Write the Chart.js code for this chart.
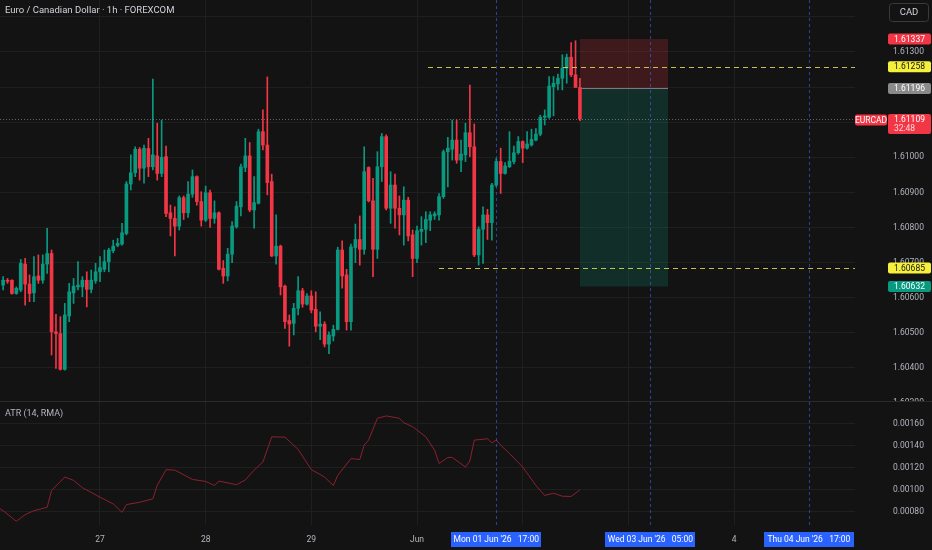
<!DOCTYPE html>
<html>
<head>
<meta charset="utf-8">
<title>EURCAD 1h</title>
<script src="https://cdn.jsdelivr.net/npm/chart.js@4.4.1/dist/chart.umd.min.js"></script>
<style>
  html, body { margin: 0; padding: 0; background: #131313; }
  #wrap { position: relative; width: 932px; height: 550px; overflow: hidden; background: #131313; }
  #main { position: absolute; left: 0; top: 0; }
  #sep { position: absolute; left: 0; top: 401px; width: 932px; height: 1px; background: #2b2b2b; }
  #atr { position: absolute; left: 0; top: 402px; }
</style>
</head>
<body>
<div id="wrap">
  <canvas id="main" width="932" height="401"></canvas>
  <div id="sep"></div>
  <canvas id="atr" width="932" height="148"></canvas>
</div>
<script>
// 1h bars, index 0 = first visible bar (26 May evening)
const opens = [
  1.60636,1.60649,1.60650,1.60612,1.60622,1.60696,1.60639,1.60614,1.60662,1.60650,
  1.60696,1.60726,1.60503,1.60498,1.60396,1.60548,1.60614,1.60631,1.60631,1.60650,
  1.60624,1.60648,1.60674,1.60681,1.60703,1.60734,1.60749,1.60753,1.60783,1.60924,
  1.60956,1.61023,1.60969,1.61025,1.60973,1.61004,1.60954,1.61002,1.60842,1.60826,
  1.60804,1.60885,1.60842,1.60895,1.60945,1.60874,1.60821,1.60899,1.60826,1.60842,
  1.60684,1.60662,1.60724,1.60802,1.60859,1.60971,1.61004,1.60850,1.60869,1.61073,
  1.61035,1.60931,1.60719,1.60747,1.60633,1.60535,1.60527,1.60570,1.60620,1.60582,
  1.60605,1.60567,1.60519,1.60525,1.60468,1.60491,1.60510,1.60736,1.60665,1.60532,
  1.60743,1.60766,1.60738,1.60971,1.60876,1.60738,1.60973,1.61059,1.60855,1.60921,
  1.60855,1.60836,1.60878,1.60779,1.60712,1.60789,1.60795,1.60821,1.60833,1.60836,
  1.60888,1.61016,1.61023,1.61049,1.60992,1.61007,1.61070,1.61030,1.60722,1.60795,
  1.60836,1.60814,1.60921,1.60988,1.60954,1.60973,1.60988,1.61013,1.61045,1.61026,
  1.61035,1.61049,1.61066,1.61114,1.61114,1.61201,1.61209,1.61225,1.61254,1.61285,
  1.61235,1.61199
];
const highs = [
  1.60660,1.60655,1.60651,1.60631,1.60709,1.60712,1.60665,1.60717,1.60722,1.60722,
  1.60798,1.60736,1.60553,1.60546,1.60584,1.60641,1.60655,1.60703,1.60660,1.60674,
  1.60679,1.60698,1.60717,1.60736,1.60741,1.60764,1.60769,1.60812,1.60931,1.61007,
  1.61030,1.61028,1.61035,1.61054,1.61223,1.61097,1.61106,1.61032,1.60864,1.60859,
  1.60890,1.60890,1.60931,1.60964,1.60947,1.60902,1.60918,1.60907,1.60876,1.60845,
  1.60706,1.60741,1.60817,1.60874,1.60981,1.61054,1.61042,1.60945,1.61080,1.61135,
  1.61229,1.60952,1.60836,1.60750,1.60636,1.60551,1.60584,1.60660,1.60627,1.60612,
  1.60620,1.60617,1.60560,1.60532,1.60503,1.60522,1.60744,1.60762,1.60681,1.60753,
  1.60810,1.60833,1.61030,1.60973,1.60940,1.61016,1.61068,1.61064,1.60959,1.60952,
  1.60890,1.60916,1.60886,1.60793,1.60804,1.60831,1.60845,1.60845,1.60845,1.60897,
  1.61021,1.61057,1.61106,1.61106,1.61049,1.61097,1.61206,1.61095,1.60802,1.60859,
  1.60852,1.60926,1.60997,1.61026,1.60985,1.61073,1.61032,1.61059,1.61047,1.61073,
  1.61080,1.61082,1.61120,1.61135,1.61230,1.61230,1.61237,1.61292,1.61294,1.61327,
  1.61332,1.61225
];
const lows = [
  1.60622,1.60641,1.60610,1.60610,1.60617,1.60579,1.60589,1.60589,1.60641,1.60641,
  1.60669,1.60437,1.60399,1.60394,1.60394,1.60532,1.60584,1.60622,1.60603,1.60574,
  1.60614,1.60641,1.60646,1.60674,1.60674,1.60728,1.60745,1.60750,1.60779,1.60907,
  1.60945,1.60935,1.60926,1.60945,1.60964,1.60935,1.60945,1.60831,1.60776,1.60719,
  1.60793,1.60823,1.60829,1.60886,1.60864,1.60804,1.60817,1.60800,1.60812,1.60679,
  1.60641,1.60648,1.60700,1.60798,1.60833,1.60959,1.60845,1.60798,1.60867,1.61021,
  1.60893,1.60717,1.60696,1.60608,1.60513,1.60462,1.60494,1.60551,1.60573,1.60579,
  1.60557,1.60503,1.60481,1.60460,1.60441,1.60477,1.60508,1.60627,1.60508,1.60508,
  1.60700,1.60693,1.60724,1.60873,1.60660,1.60712,1.60931,1.60850,1.60812,1.60798,
  1.60779,1.60750,1.60762,1.60660,1.60700,1.60750,1.60757,1.60791,1.60823,1.60821,
  1.60883,1.60916,1.60992,1.60983,1.60959,1.60988,1.61002,1.60717,1.60693,1.60698,
  1.60766,1.60764,1.60916,1.60897,1.60952,1.60971,1.60981,1.61009,1.60985,1.61023,
  1.61032,1.61047,1.61061,1.61092,1.61111,1.61118,1.61192,1.61192,1.61211,1.61230,
  1.61199,1.61104
];
const closes = [
  1.60650,1.60647,1.60612,1.60627,1.60698,1.60639,1.60612,1.60660,1.60650,1.60696,
  1.60726,1.60503,1.60498,1.60396,1.60551,1.60617,1.60633,1.60636,1.60650,1.60624,
  1.60650,1.60674,1.60686,1.60703,1.60736,1.60747,1.60755,1.60785,1.60924,1.60956,
  1.61023,1.60969,1.61026,1.60973,1.61007,1.60954,1.61000,1.60840,1.60826,1.60804,
  1.60885,1.60842,1.60895,1.60945,1.60874,1.60821,1.60899,1.60826,1.60842,1.60681,
  1.60662,1.60724,1.60804,1.60861,1.60973,1.61004,1.60850,1.60871,1.61073,1.61035,
  1.60928,1.60719,1.60747,1.60631,1.60532,1.60525,1.60570,1.60620,1.60582,1.60605,
  1.60565,1.60519,1.60525,1.60468,1.60494,1.60510,1.60736,1.60662,1.60532,1.60745,
  1.60766,1.60738,1.60959,1.60876,1.60738,1.60973,1.61059,1.60855,1.60921,1.60855,
  1.60836,1.60878,1.60776,1.60712,1.60791,1.60795,1.60823,1.60836,1.60839,1.60888,
  1.61016,1.61026,1.61049,1.60992,1.61009,1.61070,1.61030,1.60722,1.60795,1.60836,
  1.60814,1.60921,1.60988,1.60954,1.60975,1.60989,1.61013,1.61045,1.61026,1.61038,
  1.61051,1.61066,1.61114,1.61118,1.61203,1.61211,1.61225,1.61254,1.61285,1.61235,
  1.61199,1.61109
];

// ATR(14, RMA) read at these bar indexes
const atrBars = [-1,0,3,5,7,10,11,14,16,18,22,25,27,28,31,34,35,37,39,43,46,48,49,53,55,57,59,61,64,67,70,
  73,75,76,79,81,82,83,85,87,90,91,93,96,98,99,101,102,105,106,107,110,111,112,113,115,118,121,123,125,127,129,131];
const atrValues = [0.000835,0.00081,0.000714,0.000774,0.000811,0.000841,0.000995,0.001117,0.001086,0.00102,0.000933,
  0.000872,0.000795,0.000866,0.000887,0.000918,0.00104,0.001184,0.00118,0.001095,0.001077,
  0.00104,0.00108,0.001047,0.00109,0.00118,0.001254,0.001483,0.00148,0.001368,0.001184,
  0.001117,0.00104,0.001132,0.001285,0.001276,0.001407,0.001453,0.001652,0.001673,0.001652,
  0.001612,0.001575,0.001483,0.001361,0.00124,0.001295,0.001295,0.001208,0.001263,0.001453,
  0.001465,0.001428,0.001453,0.001407,0.001331,0.001208,0.00104,0.000949,0.00097,0.000942,
  0.00094,0.001];

// time axis
const dayTickPos = [22, 46, 70, 94, 118, 142, 166];
const dayTickLabels = ['27', '28', '29', 'Jun', '2', '3', '4'];
const markerBars = [112, 147, 183];
const markerLabels = ["Mon 01 Jun '26   17:00", "Wed 03 Jun '26   05:00", "Thu 04 Jun '26   17:00"];

// price axis
const priceTicks = [1.603, 1.604, 1.605, 1.606, 1.607, 1.608, 1.609, 1.610, 1.611, 1.612, 1.613, 1.614];
const hiddenPriceTicks = [1.611, 1.612, 1.614];
const atrTicks = [0.0008, 0.0010, 0.0012, 0.0014, 0.0016];

// levels
const lastPrice = 1.61109;
const lastCountdown = '32:48';
const stopPrice = 1.61337;
const entryPrice = 1.61196;
const targetPrice = 1.60632;
const positionFrom = 131, positionTo = 151;
const yellowLevels = [1.61258, 1.60685];
const yellowFrom = [96.5, 99];

const xMin = -0.71, xMax = 193.47;
const GREEN = '#089981', RED = '#f23645';
const GRID = '#1f1f1f';
const TEXT = '#b2b5be';
const FONT = "Roboto, 'Noto Sans', sans-serif";

Chart.defaults.font.family = FONT;
Chart.defaults.color = TEXT;

const candleColors = opens.map((o, i) => closes[i] >= o ? GREEN : RED);
const bodies = opens.map((o, i) => ({ x: i, y: [o, closes[i]] }));
const wicks = lows.map((l, i) => ({ x: i, y: [l, highs[i]] }));

// right price scale: fixed width, no extra vertical padding from the label offset
const fitRight = s => { s.width = 77; s.paddingTop = 0; s.paddingBottom = 0; };

function badge(ctx, x, y, w, h, bg, fg, text) {
  ctx.fillStyle = bg;
  ctx.beginPath();
  ctx.roundRect(x, y - h / 2, w, h, 2);
  ctx.fill();
  ctx.fillStyle = fg;
  ctx.textAlign = 'center';
  ctx.textBaseline = 'middle';
  ctx.fillText(text, x + w / 2, y + 0.5);
}

function vMarkers(chart) {
  const { ctx, chartArea: a, scales: { x } } = chart;
  ctx.save();
  ctx.strokeStyle = 'rgba(60,100,240,0.6)';
  ctx.lineWidth = 1;
  ctx.setLineDash([3, 3]);
  markerBars.forEach(b => {
    const px = Math.round(x.getPixelForValue(b)) + 0.5;
    ctx.beginPath();
    ctx.moveTo(px, a.top);
    ctx.lineTo(px, a.bottom);
    ctx.stroke();
  });
  ctx.restore();
}

const mainOverlay = {
  id: 'mainOverlay',
  beforeDatasetsDraw(chart) {
    const { ctx, scales: { x, y } } = chart;
    const xl = x.getPixelForValue(positionFrom), xr = x.getPixelForValue(positionTo);
    const ys = y.getPixelForValue(stopPrice), ye = y.getPixelForValue(entryPrice), yt = y.getPixelForValue(targetPrice);
    ctx.save();
    ctx.fillStyle = 'rgba(242,54,69,0.2)';
    ctx.fillRect(xl, ys, xr - xl, ye - ys);
    ctx.fillStyle = 'rgba(8,153,129,0.2)';
    ctx.fillRect(xl, ye, xr - xl, yt - ye);
    ctx.strokeStyle = '#787b86';
    ctx.beginPath();
    ctx.moveTo(xl, Math.round(ye) + 0.5);
    ctx.lineTo(xr, Math.round(ye) + 0.5);
    ctx.stroke();
    ctx.restore();
  },
  afterDatasetsDraw(chart) {
    const { ctx, chartArea: a, scales: { x, y } } = chart;
    ctx.save();
    // last price dotted line
    ctx.strokeStyle = 'rgba(178,181,190,0.5)';
    ctx.setLineDash([1, 2]);
    const py = Math.round(y.getPixelForValue(lastPrice)) + 0.5;
    ctx.beginPath(); ctx.moveTo(a.left, py); ctx.lineTo(a.right, py); ctx.stroke();
    // yellow levels
    ctx.strokeStyle = 'rgba(226,222,90,0.85)';
    ctx.setLineDash([5, 4]);
    yellowLevels.forEach((p, i) => {
      const yy = Math.round(y.getPixelForValue(p)) + 0.5;
      ctx.beginPath(); ctx.moveTo(x.getPixelForValue(yellowFrom[i]), yy); ctx.lineTo(a.right, yy); ctx.stroke();
    });
    ctx.restore();
    vMarkers(chart);
  },
  afterDraw(chart) {
    const { ctx, scales: { y } } = chart;
    ctx.save();
    ctx.font = `9.5px ${FONT}`;
    ctx.fillStyle = '#d1d4dc';
    ctx.textAlign = 'left';
    ctx.textBaseline = 'middle';
    ctx.fillText('Euro / Canadian Dollar · 1h · FOREXCOM', 5, 11);

    // currency button
    ctx.fillStyle = '#131313';
    ctx.strokeStyle = '#3a3a3a';
    ctx.beginPath(); ctx.roundRect(889.5, 3.5, 39, 18, 3); ctx.fill(); ctx.stroke();
    ctx.fillStyle = '#d1d4dc';
    ctx.textAlign = 'center';
    ctx.fillText('CAD', 909, 12.5);

    ctx.font = `8.5px ${FONT}`;
    const bx = 888, bw = 43, bh = 11;
    badge(ctx, bx, y.getPixelForValue(stopPrice), bw, bh, RED, '#ffffff', stopPrice.toFixed(5));
    badge(ctx, bx, y.getPixelForValue(yellowLevels[0]), bw, bh, '#f5f03c', '#131313', yellowLevels[0].toFixed(5));
    badge(ctx, bx, y.getPixelForValue(entryPrice), bw, bh, '#8a8a8a', '#ffffff', entryPrice.toFixed(5));
    badge(ctx, bx, y.getPixelForValue(yellowLevels[1]), bw, bh, '#f5f03c', '#131313', yellowLevels[1].toFixed(5));
    badge(ctx, bx, y.getPixelForValue(targetPrice), bw, bh, GREEN, '#ffffff', targetPrice.toFixed(5));

    // last price with countdown
    const ly = y.getPixelForValue(lastPrice);
    badge(ctx, 855, ly + 1, 32, 11, RED, '#ffffff', 'EURCAD');
    ctx.fillStyle = RED;
    ctx.beginPath(); ctx.roundRect(bx, ly - 5, bw, 20, 2); ctx.fill();
    ctx.fillStyle = '#ffffff';
    ctx.textAlign = 'center';
    ctx.fillText(lastPrice.toFixed(5), bx + bw / 2, ly + 0.5);
    ctx.fillStyle = '#ffd6da';
    ctx.fillText(lastCountdown, bx + bw / 2 - 5, ly + 9.5);
    ctx.restore();
  }
};

const atrOverlay = {
  id: 'atrOverlay',
  afterDatasetsDraw(chart) { vMarkers(chart); },
  afterDraw(chart) {
    const { ctx, scales: { x } } = chart;
    ctx.save();
    ctx.font = `9px ${FONT}`;
    ctx.fillStyle = TEXT;
    ctx.textAlign = 'left';
    ctx.textBaseline = 'middle';
    ctx.fillText('ATR (14, RMA)', 5, 12);
    ctx.font = `8.5px ${FONT}`;
    markerBars.forEach((b, i) => {
      const cx = x.getPixelForValue(b);
      ctx.fillStyle = '#2962ff';
      ctx.fillRect(Math.round(cx - 45), 130, 90, 15);
      ctx.fillStyle = '#ffffff';
      ctx.textAlign = 'center';
      ctx.fillText(markerLabels[i], cx, 138);
    });
    ctx.restore();
  }
};

new Chart(document.getElementById('main'), {
  type: 'bar',
  data: {
    datasets: [
      { label: 'body', data: bodies, backgroundColor: candleColors, barThickness: 3, grouped: false, minBarLength: 1 },
      { label: 'wick', data: wicks, backgroundColor: candleColors, barThickness: 1, grouped: false }
    ]
  },
  options: {
    responsive: false,
    animation: false,
    layout: { padding: 0 },
    plugins: { legend: { display: false }, tooltip: { enabled: false } },
    scales: {
      x: {
        type: 'linear', min: xMin, max: xMax, offset: false,
        afterBuildTicks: s => { s.ticks = dayTickPos.map(v => ({ value: v })); },
        ticks: { display: false },
        grid: { color: GRID, drawTicks: false, offset: false },
        border: { display: false },
        afterFit: s => { s.height = 0; }
      },
      y: {
        position: 'right', min: 1.60306, max: 1.61448,
        afterBuildTicks: s => { s.ticks = priceTicks.map(v => ({ value: v })); },
        ticks: {
          crossAlign: 'near', padding: 38, color: TEXT, font: { size: 8.5 },
          callback: v => hiddenPriceTicks.some(h => Math.abs(h - v) < 1e-7) ? '' : v.toFixed(5)
        },
        grid: { color: GRID, drawTicks: false },
        border: { display: false },
        afterFit: fitRight
      }
    }
  },
  plugins: [mainOverlay]
});

new Chart(document.getElementById('atr'), {
  type: 'line',
  data: {
    datasets: [{
      label: 'ATR',
      data: atrBars.map((b, i) => ({ x: b, y: atrValues[i] })),
      borderColor: '#8e2030', borderWidth: 1, pointRadius: 0, tension: 0
    }]
  },
  options: {
    responsive: false,
    animation: false,
    layout: { padding: 0 },
    plugins: { legend: { display: false }, tooltip: { enabled: false } },
    scales: {
      x: {
        type: 'linear', min: xMin, max: xMax,
        afterBuildTicks: s => { s.ticks = dayTickPos.map(v => ({ value: v })); },
        ticks: {
          autoSkip: false, maxRotation: 0, padding: 10, color: TEXT, font: { size: 8.5 },
          callback: v => dayTickLabels[dayTickPos.indexOf(v)]
        },
        grid: { color: GRID, drawTicks: false },
        border: { display: false },
        afterFit: s => { s.height = 25; }
      },
      y: {
        position: 'right', min: 0.00068, max: 0.0018,
        afterBuildTicks: s => { s.ticks = atrTicks.map(v => ({ value: v })); },
        ticks: { crossAlign: 'near', padding: 38, color: TEXT, font: { size: 8.5 }, callback: v => v.toFixed(5) },
        grid: { color: GRID, drawTicks: false },
        border: { display: false },
        afterFit: fitRight
      }
    }
  },
  plugins: [atrOverlay]
});
</script>
</body>
</html>
